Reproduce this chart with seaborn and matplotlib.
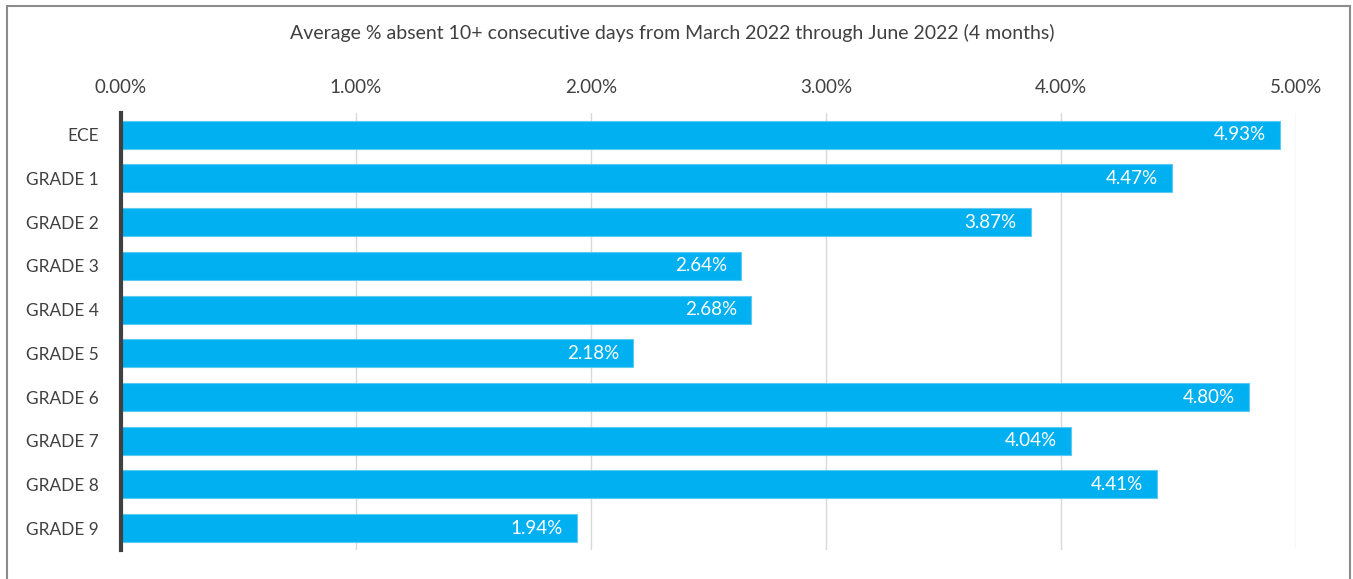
import matplotlib
matplotlib.use('Agg')
import matplotlib.pyplot as plt
import matplotlib.patches as patches
from matplotlib.ticker import FuncFormatter
import pandas as pd
import seaborn as sns

grades = ['ECE', 'GRADE 1', 'GRADE 2', 'GRADE 3', 'GRADE 4', 'GRADE 5',
          'GRADE 6', 'GRADE 7', 'GRADE 8', 'GRADE 9']
pct_absent = [4.93, 4.47, 3.87, 2.64, 2.68, 2.18, 4.80, 4.04, 4.41, 1.94]
x_ticks = [0, 1, 2, 3, 4, 5]
title = 'Average % absent 10+ consecutive days from March 2022 through June 2022 (4 months)'

df = pd.DataFrame({'grade': grades, 'pct': pct_absent})

sns.set_theme(style='white')
plt.rcParams['font.family'] = ['Lato', 'DejaVu Sans']

fig = plt.figure(figsize=(13.53, 5.79), dpi=100)
ax = fig.add_axes([0.0894, 0.050, 0.958 - 0.0894, 0.755])

sns.barplot(data=df, x='pct', y='grade', orient='h', color='#00B0F0',
            saturation=1, width=0.64, ax=ax, edgecolor='#5CCBF3', linewidth=0.8)

ax.set_xlim(0, 5)
ax.set_ylim(9.5, -0.5)
ax.set_xticks(x_ticks)
ax.xaxis.set_major_formatter(FuncFormatter(lambda v, p: f'{v:.2f}%'))
ax.xaxis.tick_top()
ax.tick_params(axis='x', length=0, pad=12, labelsize=13.5, labelcolor='#404040')
ax.tick_params(axis='y', length=0, pad=16, labelsize=12.4, labelcolor='#404040')
ax.set_xlabel('')
ax.set_ylabel('')
ax.grid(axis='x', color='#D9D9D9', linewidth=1)
ax.set_axisbelow(True)
for s in ['top', 'right', 'bottom']:
    ax.spines[s].set_visible(False)
ax.spines['left'].set_color('#404040')
ax.spines['left'].set_linewidth(3)
ax.spines['left'].set_zorder(5)

for i, v in enumerate(pct_absent):
    ax.text(v - 0.06, i, f'{v:.2f}%', ha='right', va='center',
            color='white', fontsize=13.5)

fig.text(0.497, 0.943, title, ha='center', va='center', fontsize=14, color='#404040')

fig.patches.append(patches.Rectangle((0.0052, -0.05), 0.9926, 1.04, transform=fig.transFigure,
                                     fill=False, edgecolor='#8C8C8C', linewidth=1.5))

fig.savefig('out.png', dpi=100)
